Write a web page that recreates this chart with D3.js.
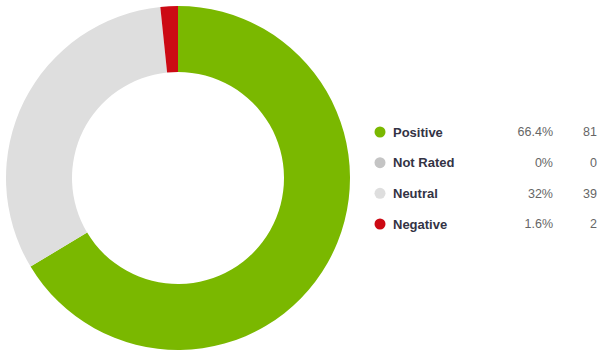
<!DOCTYPE html>
<html><head><meta charset="utf-8">
<script src="https://cdn.jsdelivr.net/npm/d3@7"></script>
<style>html,body{margin:0;padding:0;background:#fff;}</style>
</head><body>
<svg id="chart" width="607" height="353"></svg>
<script>
const categories = ["Positive", "Not Rated", "Neutral", "Negative"];
const counts = [81, 0, 39, 2];
const percentLabels = ["66.4%", "0%", "32%", "1.6%"];
const colors = ["#7ab800", "#c4c4c4", "#dedede", "#cc0a14"];

const svg = d3.select("#chart");
const cx = 178, cy = 178, outerR = 172, innerR = 106;

const data = categories.map((c, i) => ({name: c, value: counts[i], pct: percentLabels[i], color: colors[i]}));
const pie = d3.pie().value(d => d.value).sort(null);
const arc = d3.arc().innerRadius(innerR).outerRadius(outerR);

svg.append("g").attr("transform", `translate(${cx},${cy})`)
  .selectAll("path").data(pie(data)).join("path")
  .attr("d", arc).attr("fill", d => d.data.color);

const y = d3.scalePoint().domain(categories).range([132, 224]);
const lg = svg.append("g").style("font-family", "Arial, 'Liberation Sans', sans-serif");
const rows = lg.selectAll("g").data(data).join("g").attr("transform", d => `translate(0,${y(d.name)})`);
rows.append("circle").attr("cx", 380).attr("cy", 0).attr("r", 5.5).attr("fill", d => d.color);
rows.append("text").attr("x", 393).attr("dy", "0.35em").attr("fill", "#333344").attr("font-weight", "bold").style("font-size", "13px").text(d => d.name);
rows.append("text").attr("x", 553).attr("dy", "0.35em").attr("text-anchor", "end").attr("fill", "#666").style("font-size", "12.5px").text(d => d.pct);
rows.append("text").attr("x", 597).attr("dy", "0.35em").attr("text-anchor", "end").attr("fill", "#666").style("font-size", "12.5px").text(d => d.value);
</script>
</body></html>
